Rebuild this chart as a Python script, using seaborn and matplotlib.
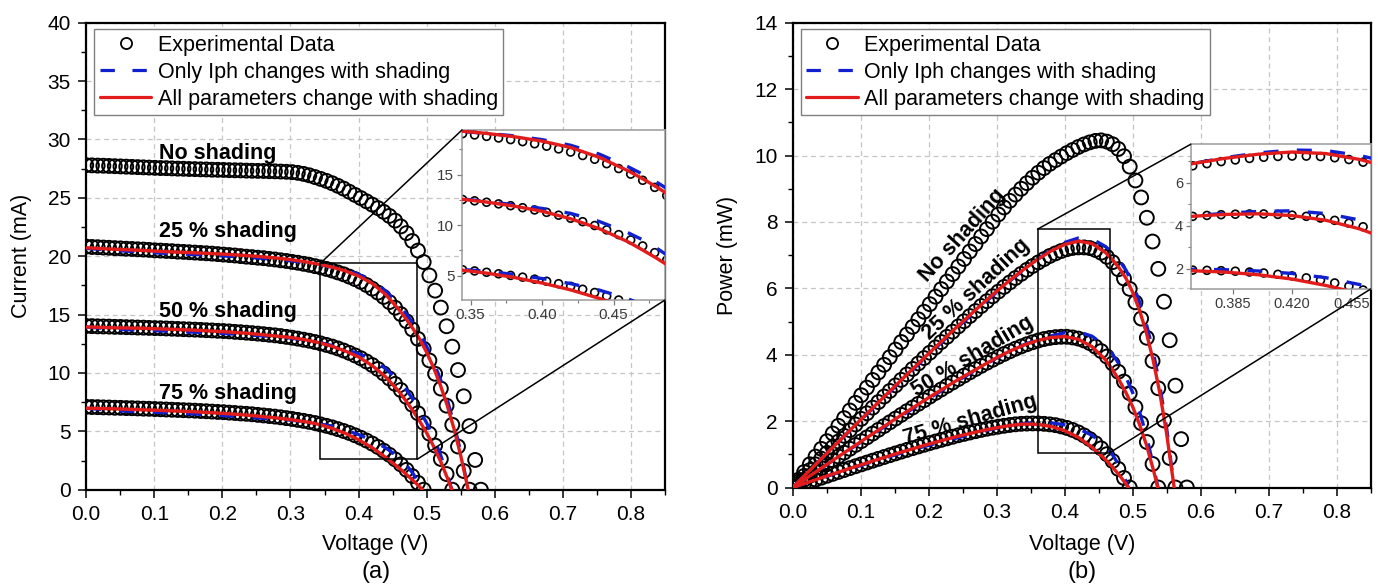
import matplotlib
matplotlib.use("Agg")
import matplotlib.pyplot as plt
import seaborn as sns
import numpy as np
from matplotlib.lines import Line2D
from matplotlib.patches import Rectangle, ConnectionPatch
from matplotlib.ticker import MultipleLocator, FixedLocator, FormatStrFormatter

# ---------------------------------------------------------------- data
# measured voltage sweep (V)
voltage = [0.0000, 0.0084, 0.0168, 0.0252, 0.0336, 0.0420, 0.0504, 0.0588, 0.0672, 0.0756,
           0.0840, 0.0924, 0.1008, 0.1092, 0.1176, 0.1260, 0.1344, 0.1428, 0.1512, 0.1596,
           0.1680, 0.1764, 0.1848, 0.1932, 0.2016, 0.2100, 0.2184, 0.2268, 0.2352, 0.2436,
           0.2520, 0.2604, 0.2688, 0.2772, 0.2856, 0.2940, 0.3024, 0.3108, 0.3192, 0.3276,
           0.3360, 0.3444, 0.3528, 0.3612, 0.3696, 0.3780, 0.3864, 0.3948, 0.4032, 0.4116,
           0.4200, 0.4284, 0.4368, 0.4452, 0.4536, 0.4620, 0.4704, 0.4788, 0.4872, 0.4956,
           0.5040, 0.5124, 0.5208, 0.5292, 0.5376, 0.5460, 0.5544, 0.5628, 0.5712, 0.5796]

# measured current (mA)
i_no_shading = [27.80, 27.78, 27.76, 27.75, 27.73, 27.71, 27.69, 27.67, 27.65, 27.63,
                27.61, 27.59, 27.57, 27.55, 27.54, 27.52, 27.50, 27.49, 27.47, 27.46,
                27.44, 27.43, 27.41, 27.40, 27.39, 27.37, 27.36, 27.35, 27.33, 27.32,
                27.31, 27.30, 27.28, 27.27, 27.25, 27.23, 27.20, 27.14, 27.05, 26.93,
                26.78, 26.62, 26.45, 26.25, 26.03, 25.79, 25.52, 25.25, 24.98, 24.70,
                24.42, 24.12, 23.80, 23.45, 23.05, 22.55, 21.98, 21.30, 20.48, 19.50,
                18.35, 17.05, 15.60, 14.00, 12.25, 10.25, 8.00, 5.45, 2.55, 0.00]

i_shade_25 = [20.82, 20.79, 20.77, 20.74, 20.72, 20.69, 20.67, 20.64, 20.62, 20.59,
              20.57, 20.54, 20.50, 20.48, 20.45, 20.43, 20.39, 20.37, 20.34, 20.31,
              20.28, 20.25, 20.22, 20.18, 20.14, 20.10, 20.06, 20.01, 19.96, 19.92,
              19.87, 19.83, 19.77, 19.72, 19.65, 19.59, 19.51, 19.44, 19.35, 19.26,
              19.15, 19.04, 18.91, 18.77, 18.61, 18.45, 18.25, 18.04, 17.80, 17.53,
              17.22, 16.88, 16.51, 16.07, 15.59, 15.04, 14.43, 13.73, 12.92, 12.07,
              11.07, 9.93, 8.66, 7.20, 5.56, 3.70, 1.60, 0.00]

i_shade_50 = [14.02, 14.01, 13.99, 13.98, 13.97, 13.95, 13.94, 13.92, 13.91, 13.89,
              13.88, 13.86, 13.84, 13.83, 13.81, 13.79, 13.77, 13.75, 13.73, 13.71,
              13.69, 13.66, 13.64, 13.61, 13.59, 13.56, 13.52, 13.49, 13.45, 13.41,
              13.37, 13.32, 13.27, 13.22, 13.16, 13.09, 13.02, 12.94, 12.85, 12.76,
              12.65, 12.53, 12.40, 12.26, 12.10, 11.92, 11.72, 11.50, 11.26, 10.98,
              10.68, 10.34, 9.96, 9.53, 9.06, 8.54, 7.94, 7.28, 6.55, 5.73,
              4.80, 3.78, 2.63, 1.34, 0.00]

i_shade_75 = [7.10, 7.08, 7.07, 7.05, 7.04, 7.02, 7.01, 6.99, 6.98, 6.96,
              6.94, 6.93, 6.91, 6.89, 6.87, 6.85, 6.83, 6.81, 6.79, 6.77,
              6.74, 6.72, 6.69, 6.66, 6.64, 6.60, 6.57, 6.53, 6.50, 6.46,
              6.41, 6.36, 6.31, 6.26, 6.20, 6.13, 6.06, 5.98, 5.90, 5.81,
              5.71, 5.59, 5.47, 5.34, 5.19, 5.03, 4.86, 4.66, 4.45, 4.21,
              3.95, 3.66, 3.34, 2.99, 2.60, 2.17, 1.70, 1.17, 0.59, 0.00]

# model curves: voltage (V) and current (mA)
v_fit_25 = [0.00, 0.04, 0.08, 0.12, 0.16, 0.20, 0.24, 0.28, 0.30, 0.32, 0.34, 0.36, 0.38, 0.40,
            0.42, 0.44, 0.46, 0.47, 0.48, 0.49, 0.50, 0.51, 0.52, 0.53, 0.54, 0.55, 0.561]
iph_only_25 = [20.67, 20.50, 20.36, 20.23, 20.14, 20.03, 19.90, 19.72, 19.61, 19.47, 19.29, 19.08,
               18.83, 18.45, 17.89, 17.02, 15.78, 15.06, 14.26, 13.37, 12.26, 10.97, 9.48, 7.75,
               5.65, 3.22, 0.00]
all_params_25 = [20.72, 20.60, 20.50, 20.38, 20.29, 20.18, 20.04, 19.84, 19.71, 19.54, 19.33, 19.08,
                 18.75, 18.30, 17.67, 16.70, 15.38, 14.61, 13.78, 12.87, 11.76, 10.47, 8.98, 7.25,
                 5.25, 2.92, 0.00]

v_fit_50 = [0.00, 0.04, 0.08, 0.12, 0.16, 0.20, 0.24, 0.28, 0.30, 0.32, 0.34, 0.36, 0.38, 0.40,
            0.42, 0.44, 0.46, 0.47, 0.48, 0.49, 0.50, 0.51, 0.52, 0.53, 0.537]
iph_only_50 = [13.94, 13.75, 13.66, 13.58, 13.49, 13.39, 13.25, 13.10, 12.99, 12.84, 12.65, 12.36,
               12.02, 11.65, 11.16, 10.36, 9.26, 8.57, 7.74, 6.79, 5.71, 4.48, 3.04, 1.30, 0.00]
all_params_50 = [13.94, 13.87, 13.83, 13.75, 13.66, 13.54, 13.38, 13.15, 13.04, 12.86, 12.62, 12.30,
                 11.89, 11.37, 10.63, 9.65, 8.36, 7.57, 6.74, 5.84, 4.86, 3.73, 2.49, 1.06, 0.00]

v_fit_75 = [0.00, 0.04, 0.08, 0.12, 0.16, 0.20, 0.24, 0.28, 0.30, 0.32, 0.34, 0.36, 0.38, 0.40,
            0.42, 0.44, 0.46, 0.47, 0.48, 0.49, 0.4935]
iph_only_75 = [6.98, 6.78, 6.67, 6.59, 6.49, 6.36, 6.19, 6.04, 5.96, 5.84, 5.65, 5.46, 5.13, 4.72,
               4.22, 3.58, 2.73, 2.12, 1.39, 0.40, 0.00]
all_params_75 = [6.98, 6.93, 6.85, 6.77, 6.67, 6.54, 6.37, 6.14, 6.00, 5.84, 5.62, 5.28, 4.84, 4.28,
                 3.60, 2.76, 1.83, 1.32, 0.79, 0.23, 0.00]

curve_labels = ["No shading", "25 % shading", "50 % shading", "75 % shading"]
legend_labels = ["Experimental Data", "Only Iph changes with shading",
                 "All parameters change with shading"]

# ---------------------------------------------------------------- style
sns.set_theme(style="ticks")
plt.rcParams["font.family"] = ["Liberation Sans", "DejaVu Sans"]
plt.rcParams.update({
    "axes.edgecolor": "black",
    "text.color": "black",
    "axes.labelcolor": "black",
    "xtick.color": "black",
    "ytick.color": "black",
})

BLUE = "#1020d0"
RED = "#e21b1b"
DASH = (0, (4.5, 5.5))

measured = [i_no_shading, i_shade_25, i_shade_50, i_shade_75]
fits = [(v_fit_25, iph_only_25, all_params_25),
        (v_fit_50, iph_only_50, all_params_50),
        (v_fit_75, iph_only_75, all_params_75)]


def as_power(v, i):
    return [a * b for a, b in zip(v, i)]


def draw_curves(ax, power, size, edge, lw):
    for cur in measured:
        v = voltage[:len(cur)]
        y = as_power(v, cur) if power else cur
        sns.scatterplot(x=v, y=y, ax=ax, marker="o", s=size, facecolors="none",
                        edgecolor="black", linewidth=edge, zorder=2, legend=False)
    for vf, blue, red in fits:
        yb = as_power(vf, blue) if power else blue
        yr = as_power(vf, red) if power else red
        sns.lineplot(x=vf, y=yb, ax=ax, color=BLUE, linewidth=lw, linestyle=DASH,
                     sort=False, estimator=None, zorder=3, legend=False)
        sns.lineplot(x=vf, y=yr, ax=ax, color=RED, linewidth=lw, sort=False,
                     estimator=None, zorder=4, legend=False)


def style_main(ax, ymax, ystep, yminor):
    ax.set_xlim(0, 0.85)
    ax.set_ylim(0, ymax)
    ax.xaxis.set_major_locator(MultipleLocator(0.1))
    ax.xaxis.set_minor_locator(MultipleLocator(0.05))
    ax.yaxis.set_major_locator(MultipleLocator(ystep))
    ax.yaxis.set_minor_locator(MultipleLocator(yminor))
    ax.xaxis.set_major_formatter(FormatStrFormatter("%.1f"))
    ax.yaxis.set_major_formatter(FormatStrFormatter("%d"))
    ax.grid(True, which="major", linestyle=(0, (4, 3)), color="#c6c6c6", linewidth=0.9)
    ax.set_axisbelow(True)
    ax.tick_params(which="major", direction="out", length=6, width=1.1, labelsize=15,
                   pad=5, colors="black", top=False, right=False)
    ax.tick_params(which="minor", direction="out", length=3.5, width=1.0,
                   top=False, right=False)
    for s in ax.spines.values():
        s.set_visible(True)
        s.set_linewidth(1.6)
        s.set_color("black")
    handles = [Line2D([], [], marker="o", ls="none", mfc="none", mec="black", ms=8, mew=1.3),
               Line2D([], [], color=BLUE, lw=2.3, ls=DASH),
               Line2D([], [], color=RED, lw=2.3)]
    leg = ax.legend(handles, legend_labels, loc="upper left", bbox_to_anchor=(0.014, 0.986),
                    fontsize=15.5, frameon=True, fancybox=False, edgecolor="#808080",
                    framealpha=1, borderpad=0.25, labelspacing=0.28, handlelength=2.4,
                    handletextpad=0.3, borderaxespad=0)
    leg.get_frame().set_linewidth(1.0)
    leg.set_zorder(10)


def style_inset(ax, xlim, ylim, xt, xlabels, yt, yminor, fs):
    ax.set_xlim(*xlim)
    ax.set_ylim(*ylim)
    ax.set_facecolor("white")
    ax.xaxis.set_major_locator(FixedLocator(xt))
    ax.set_xticklabels(xlabels)
    ax.yaxis.set_major_locator(FixedLocator(yt))
    ax.set_yticklabels([str(t) for t in yt])
    ax.yaxis.set_minor_locator(FixedLocator(yminor))
    ax.grid(False)
    ax.tick_params(which="major", direction="out", length=3.5, width=0.9, labelsize=fs,
                   pad=2, color="#7a7a7a", labelcolor="#3a3a3a")
    ax.tick_params(which="minor", direction="out", length=2, width=0.8, color="#7a7a7a")
    for s in ax.spines.values():
        s.set_visible(True)
        s.set_linewidth(1.1)
        s.set_color("#9a9a9a")


def zoom_links(fig, ax, axins, x0, x1, y0, y1):
    ax.add_patch(Rectangle((x0, y0), x1 - x0, y1 - y0, fill=False, edgecolor="black",
                           linewidth=1.1, zorder=6))
    for xa, ya, xb, yb in [(x0, y1, 0, 1), (x1, y0, 1, 0)]:
        con = ConnectionPatch(xyA=(xa, ya), coordsA=ax.transData, xyB=(xb, yb),
                              coordsB=axins.transAxes, color="black", linewidth=1.1)
        con.set_zorder(7)
        fig.add_artist(con)


fig = plt.figure(figsize=(13.78, 5.85), dpi=100)
W, H = 1378.0, 585.0

# ---------------------------------------------------------------- (a) current
ax1 = fig.add_axes([86.2 / W, 1 - 489.7 / H, 578.8 / W, 467.0 / H])
draw_curves(ax1, False, 100, 1.4, 2.4)
style_main(ax1, 40, 5, 2.5)
ax1.set_xlabel("Voltage (V)", fontsize=15.5)
ax1.set_ylabel("Current (mA)", fontsize=15.5)
ax1.xaxis.set_label_coords(0.5, -0.095)
ax1.yaxis.set_label_coords(-0.094, 0.5)
for lbl, y in zip(curve_labels, [28.8, 22.1, 15.25, 8.25]):
    ax1.text(0.107, y, lbl, fontsize=15.5, fontweight="bold", ha="left", va="center",
             color="black", zorder=8)

ins1 = fig.add_axes([462 / W, 1 - 300 / H, 203 / W, 170 / H])
ins1.set_zorder(ax1.get_zorder() + 1)
draw_curves(ins1, False, 32, 1.2, 2.4)
style_inset(ins1, (0.344, 0.486), (2.6, 19.4), [0.35, 0.40, 0.45],
            ["0.35", "0.40", "0.45"], [5, 10, 15], [7.5, 12.5, 17.5], 11)
ins1.xaxis.set_minor_locator(FixedLocator([0.375, 0.425, 0.475]))
zoom_links(fig, ax1, ins1, 0.344, 0.486, 2.6, 19.4)
fig.text((86.2 + 665) / 2 / W, 1 - 572 / H, "(a)", fontsize=17, ha="center", va="center")

# ---------------------------------------------------------------- (b) power
ax2 = fig.add_axes([792.7 / W, 1 - 487.5 / H, 578.0 / W, 464.8 / H])
draw_curves(ax2, True, 100, 1.4, 2.4)
style_main(ax2, 14, 2, 1)
ax2.set_xlabel("Voltage (V)", fontsize=15.5)
ax2.set_ylabel("Power (mW)", fontsize=15.5)
ax2.xaxis.set_label_coords(0.5, -0.10)
ax2.yaxis.set_label_coords(-0.094, 0.5)
for lbl, (x, y, rot) in zip(curve_labels, [(0.250, 7.6, 48), (0.270, 5.97, 43),
                                           (0.265, 3.94, 31), (0.261, 2.05, 16)]):
    ax2.text(x, y, lbl, fontsize=15.5, fontweight="bold", ha="center", va="center",
             rotation=rot, rotation_mode="anchor", color="black", zorder=8)

ins2 = fig.add_axes([1190.7 / W, 1 - 289 / H, 180 / W, 144.7 / H])
ins2.set_zorder(ax2.get_zorder() + 1)
draw_curves(ins2, True, 32, 1.2, 2.4)
style_inset(ins2, (0.360, 0.4665), (1.05, 7.78), [0.385, 0.420, 0.455],
            ["0.385", "0.420", "0.455"], [2, 4, 6], [3, 5, 7], 10.5)
zoom_links(fig, ax2, ins2, 0.360, 0.4665, 1.05, 7.78)
fig.text((792.7 + 1370.7) / 2 / W, 1 - 572 / H, "(b)", fontsize=17, ha="center", va="center")

fig.savefig("out.png", dpi=100)
